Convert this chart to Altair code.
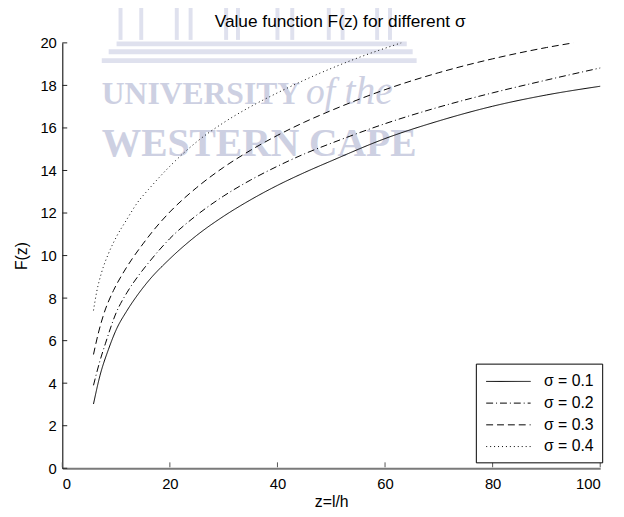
import altair as alt
import pandas as pd

# ---- data ----
sigma_labels = ["σ = 0.1", "σ = 0.2", "σ = 0.3", "σ = 0.4"]

z_s01 = [5.8, 7.0, 8.6, 10, 12, 14, 16, 20, 25, 30, 35, 40, 45, 50, 60, 70, 80, 90, 100]
f_s01 = [3.02, 4.35, 5.6, 6.5, 7.4, 8.15, 8.8, 9.85, 10.95, 11.85, 12.62, 13.3, 13.9, 14.45,
         15.5, 16.33, 17.02, 17.55, 17.96]

z_s02 = [5.8, 7.0, 8.0, 10, 12, 14, 16, 20, 25, 30, 35, 40, 45, 50, 60, 70, 80, 90, 100]
f_s02 = [3.9, 5.05, 5.85, 7.3, 8.25, 9.0, 9.65, 10.8, 11.9, 12.8, 13.55, 14.2, 14.78, 15.28,
         16.2, 16.98, 17.65, 18.25, 18.82]

z_s03 = [5.8, 6.7, 7.65, 9.5, 11, 13, 15, 17, 20, 25, 30, 35, 40, 45, 50, 60, 70, 80, 90, 95]
f_s03 = [5.35, 6.35, 7.2, 8.35, 9.05, 9.85, 10.55, 11.2, 12.05, 13.2, 14.15, 14.95, 15.65,
         16.27, 16.82, 17.8, 18.6, 19.25, 19.78, 20.0]

z_s04 = [5.8, 6.4, 7.3, 8.6, 10, 12, 14, 16, 20, 25, 30, 35, 40, 45, 50, 55, 63]
f_s04 = [7.42, 8.3, 9.2, 10.1, 10.85, 11.7, 12.5, 13.1, 14.2, 15.35, 16.25, 17.0, 17.65,
         18.25, 18.8, 19.3, 20.0]

x_ticks = [0, 20, 40, 60, 80, 100]
y_ticks = [0, 2, 4, 6, 8, 10, 12, 14, 16, 18, 20]

rows = []
for lab, zs, fs in zip(sigma_labels, [z_s01, z_s02, z_s03, z_s04], [f_s01, f_s02, f_s03, f_s04]):
    for i, (z, f) in enumerate(zip(zs, fs)):
        rows.append({"z": z, "F": f, "sigma": lab, "order": i})
df = pd.DataFrame(rows)

W, H = 545, 431
FONT = "Liberation Sans"
SERIF = "Liberation Serif"
WM = "#cdd0e2"
WM2 = "#dfe1ee"

xscale = alt.Scale(domain=[0, 100], nice=False)
yscale = alt.Scale(domain=[0, 20], nice=False)
axis_text = dict(labelFont=FONT, labelFontSize=15, labelColor="black",
                 titleFont=FONT, titleFontSize=16, titleFontWeight="normal", titleColor="black")
xaxis = alt.Axis(values=x_ticks, grid=False, tickSize=0, labelPadding=8, title="z=l/h",
                 domainColor="#7a7a7a", domainWidth=2, titlePadding=3, **axis_text)
yaxis = alt.Axis(values=y_ticks, grid=False, tickSize=0, labelPadding=6, title="F(z)",
                 domainColor="#222222", domainWidth=1.2, titlePadding=11, **axis_text)

# ---- watermark (decoration) ----
one = pd.DataFrame({"a": [0]})
wm_layers = []
for x1, x2 in [(122, 143), (179, 193), (229, 241), (281, 296), (333, 347), (382, 395)]:
    for xx in (x1, x2):
        wm_layers.append(
            alt.Chart(one).mark_rule(color=WM2, strokeWidth=4).encode(
                x=alt.value(xx - 63), y=alt.value(-40), y2=alt.value(-3)
            )
        )
for yy, xa, xb in [(1, 55, 349), (9, 47, 355), (18, 40, 359)]:
    wm_layers.append(
        alt.Chart(one).mark_rule(color=WM2, strokeWidth=5).encode(
            x=alt.value(xa), x2=alt.value(xb), y=alt.value(yy)
        )
    )
wm_layers.append(
    alt.Chart(pd.DataFrame({"t": ["UNIVERSITY"]})).mark_text(
        font=SERIF, fontSize=32, fontWeight="bold", color=WM, align="left", baseline="alphabetic"
    ).encode(text="t:N", x=alt.value(40), y=alt.value(62))
)
wm_layers.append(
    alt.Chart(pd.DataFrame({"t": ["of"]})).mark_text(
        font=SERIF, fontSize=38, fontStyle="italic", color=WM, align="left", baseline="alphabetic"
    ).encode(text="t:N", x=alt.value(247), y=alt.value(62))
)
wm_layers.append(
    alt.Chart(pd.DataFrame({"t": ["the"]})).mark_text(
        font=SERIF, fontSize=40, fontStyle="italic", color=WM, align="left", baseline="alphabetic"
    ).encode(text="t:N", x=alt.value(286), y=alt.value(62))
)
wm_layers.append(
    alt.Chart(pd.DataFrame({"t": ["WESTERN CAPE"]})).mark_text(
        font=SERIF, fontSize=40, fontWeight="bold", color=WM, align="left", baseline="alphabetic"
    ).encode(text="t:N", x=alt.value(40), y=alt.value(115))
)

# ---- curves ----
lines = alt.Chart(df).mark_line(color="black", strokeWidth=1, interpolate="monotone").encode(
    x=alt.X("z:Q", scale=xscale, axis=xaxis),
    y=alt.Y("F:Q", scale=yscale, axis=yaxis),
    strokeDash=alt.StrokeDash(
        "sigma:N",
        scale=alt.Scale(domain=sigma_labels, range=[[1, 0], [7, 3, 1, 3], [7, 4], [1, 3]]),
        legend=alt.Legend(
            title=None, orient="none", legendX=419, legendY=325,
            symbolType="M-2.37,0H2.37", symbolSize=361, symbolStrokeWidth=1,
            symbolStrokeColor="black", symbolOffset=15,
            strokeColor="black", fillColor="white", padding=8, rowPadding=4,
            labelFontSize=16, labelFont=FONT, labelColor="black", labelOffset=26,
        ),
    ),
    order="order:Q",
)

xtick_layer = alt.Chart(pd.DataFrame({"t": x_ticks})).mark_rule(color="#555555", strokeWidth=1).encode(
    x=alt.X("t:Q", scale=xscale, axis=xaxis), y=alt.value(H - 1), y2=alt.value(H - 6)
)
ytick_layer = alt.Chart(pd.DataFrame({"t": y_ticks})).mark_rule(color="#222222", strokeWidth=1).encode(
    y=alt.Y("t:Q", scale=yscale, axis=yaxis), x=alt.value(0), x2=alt.value(5)
)

chart = alt.layer(*wm_layers, lines, xtick_layer, ytick_layer).properties(
    width=W, height=H,
    title=alt.Title("Value function F(z) for different σ", font=FONT, fontSize=17.5,
                    fontWeight="normal", color="black", offset=-29, frame="group", dx=9),
    autosize=alt.AutoSizeParams(type="none"),
    padding={"left": 55, "top": 32, "right": 16, "bottom": 42},
    background="white",
).configure_view(stroke=None)

chart.save("out.html", embed_options={"renderer": "svg", "actions": False})
